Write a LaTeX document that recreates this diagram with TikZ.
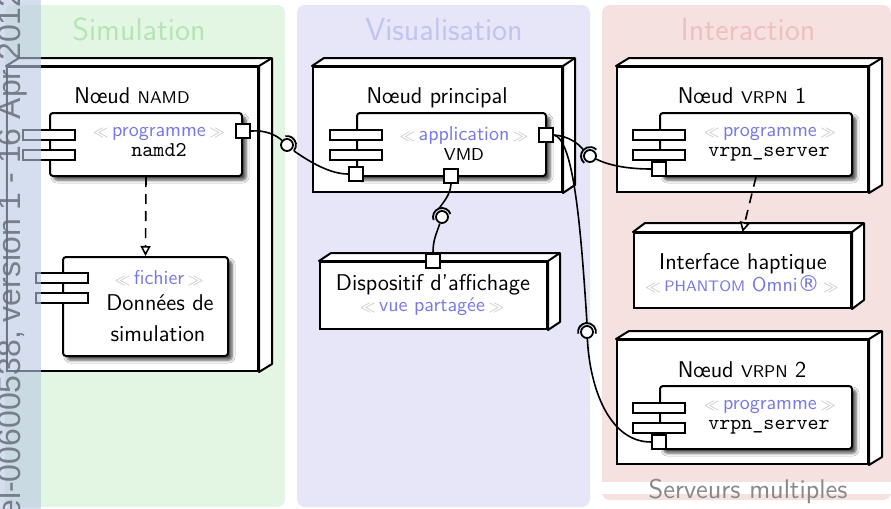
\documentclass[tikz,border=0pt]{standalone}
\usepackage{fontspec}
\newfontfamily\wmfont{Liberation Sans}
\newfontfamily\djv{DejaVu Sans}
\usetikzlibrary{fit,calc,arrows.meta,shadows.blur}
\definecolor{simbg}{HTML}{E3F6E3}
\definecolor{simtitle}{HTML}{B3E6B3}
\definecolor{visbg}{HTML}{E6E6F8}
\definecolor{vistitle}{HTML}{C3C3F0}
\definecolor{intbg}{HTML}{F6E1E1}
\definecolor{inttitle}{HTML}{F0C0C0}
\definecolor{stereoc}{HTML}{7878E0}
\definecolor{guilc}{HTML}{C0C0C0}
\definecolor{wmstrip}{RGB}{185,200,228}
\definecolor{wmtext}{RGB}{105,110,120}
\definecolor{graylbl}{HTML}{888888}
\newcommand{\stereo}[1]{\textcolor{guilc}{${\scriptstyle\ll}$}\,\textcolor{stereoc}{#1}\,\textcolor{guilc}{${\scriptstyle\gg}$}}
\newcommand{\fsc}[1]{{\fontsize{8.5}{10}\selectfont #1}}
\newcommand{\fscs}[1]{{\fontsize{7.6}{9}\selectfont #1}}
\newcommand{\extr}[3]{%
  \draw[line width=1pt, fill=white, line join=round]
    (#1.north west) -- ($(#1.north west)+(#2,-#3)$) -- ($(#1.north east)+(#2,-#3)$)
    -- ($(#1.south east)+(#2,-#3)$) -- (#1.south east) -- (#1.north east) -- cycle;
  \draw[line width=1pt] (#1.north east) -- ($(#1.north east)+(#2,-#3)$);}
\tikzset{
  nodebox/.style={draw, line width=1pt, fill=white, inner sep=0pt},
  comp/.style={draw, line width=1pt, fill=white, rounded corners=1.5pt, inner sep=0pt,
    blur shadow={shadow xshift=2pt, shadow yshift=-2pt, shadow blur radius=1.5pt, shadow opacity=70}},
  tab/.style={draw, line width=1pt, fill=white, minimum width=26pt, minimum height=5pt, inner sep=0pt},
  port/.style={draw, line width=1pt, fill=white, minimum size=7pt, inner sep=0pt},
  ball/.style={circle, draw, line width=0.9pt, fill=white, minimum size=6pt, inner sep=0pt},
  wire/.style={line width=0.8pt},
  sock/.style={line width=0.9pt},
  dep/.style={line width=0.8pt, dash pattern=on 5pt off 3.5pt, -{Triangle[fill=white, length=5pt, width=5pt]}},
  lbl/.style={font=\sffamily\fontsize{11.4}{13}\selectfont, anchor=base, inner sep=0pt},
  ster/.style={font=\sffamily\fontsize{10}{12}\selectfont, anchor=base, inner sep=0pt},
  ttl/.style={font=\ttfamily\fontsize{10.5}{12}\selectfont, anchor=base, inner sep=0pt},
  title/.style={font=\sffamily\fontsize{16}{19}\selectfont, anchor=base, inner sep=0pt},
}
\begin{document}
\begin{tikzpicture}[x=0.5pt, y=-0.5pt]
\useasboundingbox (0,0) rectangle (891,509);
% panels
\fill[simbg, rounded corners=4pt] (5,5) rectangle (285,507);
\fill[visbg, rounded corners=4pt] (297,5) rectangle (590,507);
\fill[intbg, rounded corners=4pt] (602,5) rectangle (891,500);
\fill[white] (602,482) rectangle (891,494);
\node[title, text=simtitle] (tsim) at (139,40) {Simulation};
\node[title, text=vistitle] (tvis) at (444,40) {Visualisation};
\node[title, text=inttitle] (tint) at (748,40) {Interaction};
\node[font=\sffamily\fontsize{13.5}{16}\selectfont, text=graylbl, anchor=base, inner sep=0pt] (tserv) at (748,498) {Serveurs multiples};

% ---- Noeud NAMD
\node[nodebox, fit={(7,67) (258,371)}] (nnamd) {};
\extr{nnamd}{13}{8}
\node[lbl] (lnamd) at (132,103) {Nœud \fsc{NAMD}};
\node[comp, fit={(50,113) (242,176)}] (cnamd) {};
\node[tab] (tn1) at (49,135) {};
\node[tab] (tn2) at (49,155) {};
\node[port] (pnamd) at (243,131) {};
\node[ster] (snamd) at (159,136) {\stereo{programme}};
\node[ttl] (xnamd) at (159,156) {namd2};

\node[comp, fit={(63,257) (228,356)}] (cdon) {};
\node[tab] (td1) at (62,278) {};
\node[tab] (td2) at (62,298) {};
\node[ster] (sdon) at (159,284) {\stereo{fichier}};
\node[lbl] (xdon1) at (160,310) {Données de};
\node[lbl] (xdon2) at (158,341) {simulation};
\draw[dep] (cnamd.south) -- (cdon.north);

% ---- Noeud principal
\node[nodebox, fit={(313,67) (562,192)}] (nprin) {};
\extr{nprin}{12}{8}
\node[lbl] (lprin) at (437,103) {Nœud principal};
\node[comp, fit={(357,113) (546,176)}] (cvmd) {};
\node[tab] (tv1) at (356,135) {};
\node[tab] (tv2) at (356,155) {};
\node[port] (pv1) at (546,135) {};
\node[port] (pv2) at (356,174) {};
\node[port] (pv3) at (451,176) {};
\node[ster] (svmd) at (464,140) {\stereo{application}};
\node[lbl] (xvmd) at (464,160) {\fontsize{8.6}{10}\selectfont VMD};

% ---- Dispositif
\node[nodebox, fit={(320,262) (547,329)}] (ndisp) {};
\extr{ndisp}{12}{8}
\node[port] (pd) at (433,261) {};
\node[lbl] (xdisp) at (433,290) {Dispositif d’affichage};
\node[ster] (sdisp) at (432,311) {\stereo{vue partagée}};

% ---- VRPN 1
\node[nodebox, fit={(617,67) (868,192)}] (nvr1) {};
\extr{nvr1}{13}{8}
\node[lbl] (lvr1) at (742,103) {Nœud \fsc{VRPN} 1};
\node[comp, fit={(660,113) (852,176)}] (cv1) {};
\node[tab] (ta1) at (659,135) {};
\node[tab] (ta2) at (659,155) {};
\node[port] (pr1) at (659,169) {};
\node[ster] (sv1) at (770,136) {\stereo{programme}};
\node[ttl] (xv1) at (769,156) {vrpn\_server};

% ---- Interface haptique
\node[nodebox, fit={(634,233) (851,308)}] (nhap) {};
\extr{nhap}{12}{9}
\node[lbl] (xhap) at (743,269) {Interface haptique};
\node[ster] (shap) at (742,291) {\stereo{\fscs{PHANTOM} Omni{\djv\fontsize{11}{12}\selectfont ®}}};
\draw[dep] (cv1.south) -- (nhap.north);

% ---- VRPN 2
\node[nodebox, fit={(617,340) (868,464)}] (nvr2) {};
\extr{nvr2}{13}{8}
\node[lbl] (lvr2) at (742,377) {Nœud \fsc{VRPN} 2};
\node[comp, fit={(660,386) (852,449)}] (cv2) {};
\node[tab] (tb1) at (659,408) {};
\node[tab] (tb2) at (659,428) {};
\node[port] (pr2) at (659,442) {};
\node[ster] (sv2) at (770,409) {\stereo{programme}};
\node[ttl] (xv2) at (769,429) {vrpn\_server};

% ---- balls and sockets
\node[ball] (b1) at (287,145) {};
\node[ball] (b2) at (442,217) {};
\node[ball] (b3) at (590,156) {};
\node[ball] (b4) at (587,332) {};
\draw[sock] (b1.center) ++(-100:9) arc[start angle=-100, end angle=40, radius=9];
\draw[sock] (b2.center) ++(-200:9) arc[start angle=-200, end angle=-20, radius=9];
\draw[sock] (b3.center) ++(-230:9) arc[start angle=-230, end angle=-45, radius=9];
\draw[sock] (b4.center) ++(-190:9) arc[start angle=-190, end angle=10, radius=9];
\coordinate (s1) at (294,151);
\coordinate (s2) at (439,208.5);
\coordinate (s3) at (583.5,150);
\coordinate (s4) at (587,323);

\draw[wire] (pnamd.east) .. controls (266,130) and (276,135) .. (b1);
\draw[wire] (pv2.west) .. controls (330,174) and (310,162) .. (s1);
\draw[wire] (pv1.east) .. controls (568,136) and (578,143) .. (s3);
\draw[wire] (b3) .. controls (610,166) and (630,169) .. (pr1.west);
\draw[wire] (pv1.east) .. controls (574,140) and (581,230) .. (s4);
\draw[wire] (b4) .. controls (590,390) and (610,442) .. (pr2.west);
\draw[wire] (pv3.south) .. controls (450,195) and (445,200) .. (s2);
\draw[wire] (b2) .. controls (436,235) and (433,240) .. (pd.north);

% ---- watermark strip
\fill[wmstrip, opacity=0.6] (0,0) rectangle (41,509);
\node[rotate=90, anchor=base west, inner sep=0pt, font=\wmfont\fontsize{16}{16}\selectfont, text=wmtext, opacity=0.85] (wm) at (20,527) {tel-00600538, version 1 - 16 Apr 2012};
\end{tikzpicture}
\end{document}
